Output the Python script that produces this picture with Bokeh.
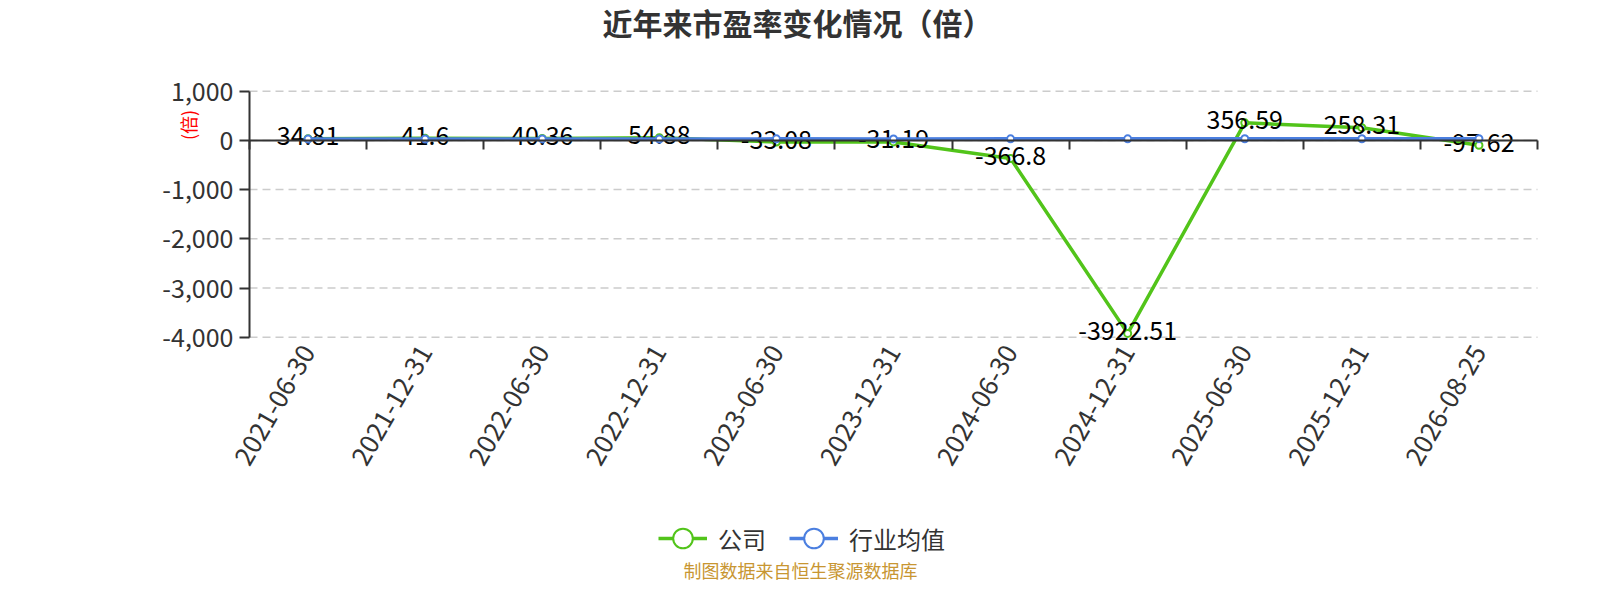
import math
from bokeh.plotting import figure
from bokeh.models import (Range1d, LinearAxis, FixedTicker, NumeralTickFormatter,
                          Label, Legend, LegendItem)
from bokeh.embed import file_html
from bokeh.resources import INLINE
from bokeh.core.properties import value

# ---- data ----
dates = ["2021-06-30", "2021-12-31", "2022-06-30", "2022-12-31", "2023-06-30",
         "2023-12-31", "2024-06-30", "2024-12-31", "2025-06-30", "2025-12-31",
         "2026-08-25"]
company_pe = [34.81, 41.6, 40.36, 54.88, -33.08, -31.19, -366.8, -3922.51,
              356.59, 258.31, -97.62]
industry_pe = [26, 28, 30, 29, 31, 30, 32, 31, 33, 34, 35]
y_ticks = [-4000, -3000, -2000, -1000, 0, 1000]

title_text = "近年来市盈率变化情况（倍）"
unit_text = "(倍)"
series_names = ["公司", "行业均值"]
footer_text = "制图数据来自恒生聚源数据库"

# ---- style / layout (pixels) ----
FONT = "Noto Sans CJK SC"
GREEN = "#52c41a"
BLUE = "#4b7fe0"
DARK = "#333333"

W, H = 1584, 584
PL, PR, PT, PB = 249.0, 1537.0, 90.7, 336.7   # plot area inside the canvas

n = len(dates)
xs = [i + 0.5 for i in range(n)]
labels = [f"{v:g}" for v in company_pe]

y_lo, y_hi = y_ticks[0], y_ticks[-1]
px_x = (PR - PL) / n                 # pixels per category
px_y = (PB - PT) / (y_hi - y_lo)     # pixels per unit
x_range = Range1d(-PL / px_x, n + (W - PR) / px_x)
y_range = Range1d(y_lo - (H - PB) / px_y, y_hi + PT / px_y)

p = figure(width=W, height=H, output_backend="svg", toolbar_location=None, tools="",
           x_range=x_range, y_range=y_range, min_border=0)
p.title.visible = False
p.outline_line_color = None
p.background_fill_color = "white"
p.border_fill_color = "white"
p.xgrid.visible = False
p.ygrid.visible = False

# dashed grid lines over the plot area
p.segment(x0=[0] * len(y_ticks), x1=[n] * len(y_ticks), y0=y_ticks, y1=y_ticks,
          line_color="#cccccc", line_dash="8 5", line_width=1.5)

# y axis
ya = p.yaxis[0]
ya.fixed_location = 0
ya.bounds = (y_lo, y_hi)
ya.ticker = FixedTicker(ticks=y_ticks)
ya.formatter = NumeralTickFormatter(format="0,0")
ya.axis_line_color = DARK
ya.axis_line_width = 2
ya.major_tick_line_color = DARK
ya.major_tick_line_width = 2
ya.major_tick_out = 10
ya.major_tick_in = 0
ya.minor_tick_line_color = None
ya.major_label_standoff = 6
ya.major_label_text_font = FONT
ya.major_label_text_font_size = "25px"
ya.major_label_text_color = DARK

# x axis with date labels under the plot area
xa = p.xaxis[0]
xa.fixed_location = y_lo
xa.bounds = (0, n)
xa.ticker = FixedTicker(ticks=xs)
xa.major_label_overrides = {x: d for x, d in zip(xs, dates)}
xa.axis_line_color = None
xa.major_tick_line_color = None
xa.minor_tick_line_color = None
xa.major_tick_out = 0
xa.major_tick_in = 0
xa.major_label_standoff = 10
xa.major_label_orientation = math.pi / 3
xa.major_label_text_font = FONT
xa.major_label_text_font_size = "26px"
xa.major_label_text_color = DARK

# zero-line axis with boundary ticks
za = LinearAxis(fixed_location=0, bounds=(0, n),
                ticker=FixedTicker(ticks=list(range(n + 1))),
                axis_line_color=DARK, axis_line_width=2,
                major_tick_line_color=DARK, major_tick_line_width=2,
                major_tick_out=9, major_tick_in=0,
                minor_tick_line_color=None,
                major_label_text_color=None, major_label_text_font_size="1px")
p.add_layout(za, "below")

# series
gl = p.line(xs, company_pe, line_color=GREEN, line_width=3.5)
gs = p.scatter(xs, company_pe, marker="circle", size=7, fill_color="white",
               line_color=GREEN, line_width=2)
p.text(x=xs, y=company_pe, text=labels, text_align="center", text_baseline="middle",
       y_offset=-3, text_font=value(FONT), text_font_size="25px", text_color="#000000")
bl = p.line(xs, industry_pe, line_color=BLUE, line_width=3.5)
bs = p.scatter(xs, industry_pe, marker="circle", size=7, fill_color="white",
               line_color=BLUE, line_width=2)

# legend
legend = Legend(items=[LegendItem(label=series_names[0], renderers=[gl, gs]),
                       LegendItem(label=series_names[1], renderers=[bl, bs])],
                orientation="horizontal", location=(658, H - 569),
                glyph_width=49, glyph_height=62, label_standoff=11, spacing=23,
                padding=0, margin=0, border_line_color=None,
                background_fill_alpha=0,
                label_text_font=FONT, label_text_font_size="24px",
                label_text_color=DARK)
p.add_layout(legend, "center")

# title, unit, footer
p.add_layout(Label(x=797, y=H - 21, x_units="screen", y_units="screen", text=title_text,
                   text_align="center", text_baseline="middle", text_font=FONT,
                   text_font_size="30px", text_font_style="bold", text_color=DARK))
p.add_layout(Label(x=187.5, y=H - 124.5, x_units="screen", y_units="screen",
                   text=unit_text, angle=math.pi / 2, text_align="center",
                   text_baseline="middle", text_font=FONT, text_font_size="18px",
                   text_color="#ff0000"))
p.add_layout(Label(x=800, y=15, x_units="screen", y_units="screen", text=footer_text,
                   text_align="center", text_baseline="middle", text_font=FONT,
                   text_font_size="18px", text_color="#c89632"))

open("out.html", "w").write(file_html(p, INLINE))
